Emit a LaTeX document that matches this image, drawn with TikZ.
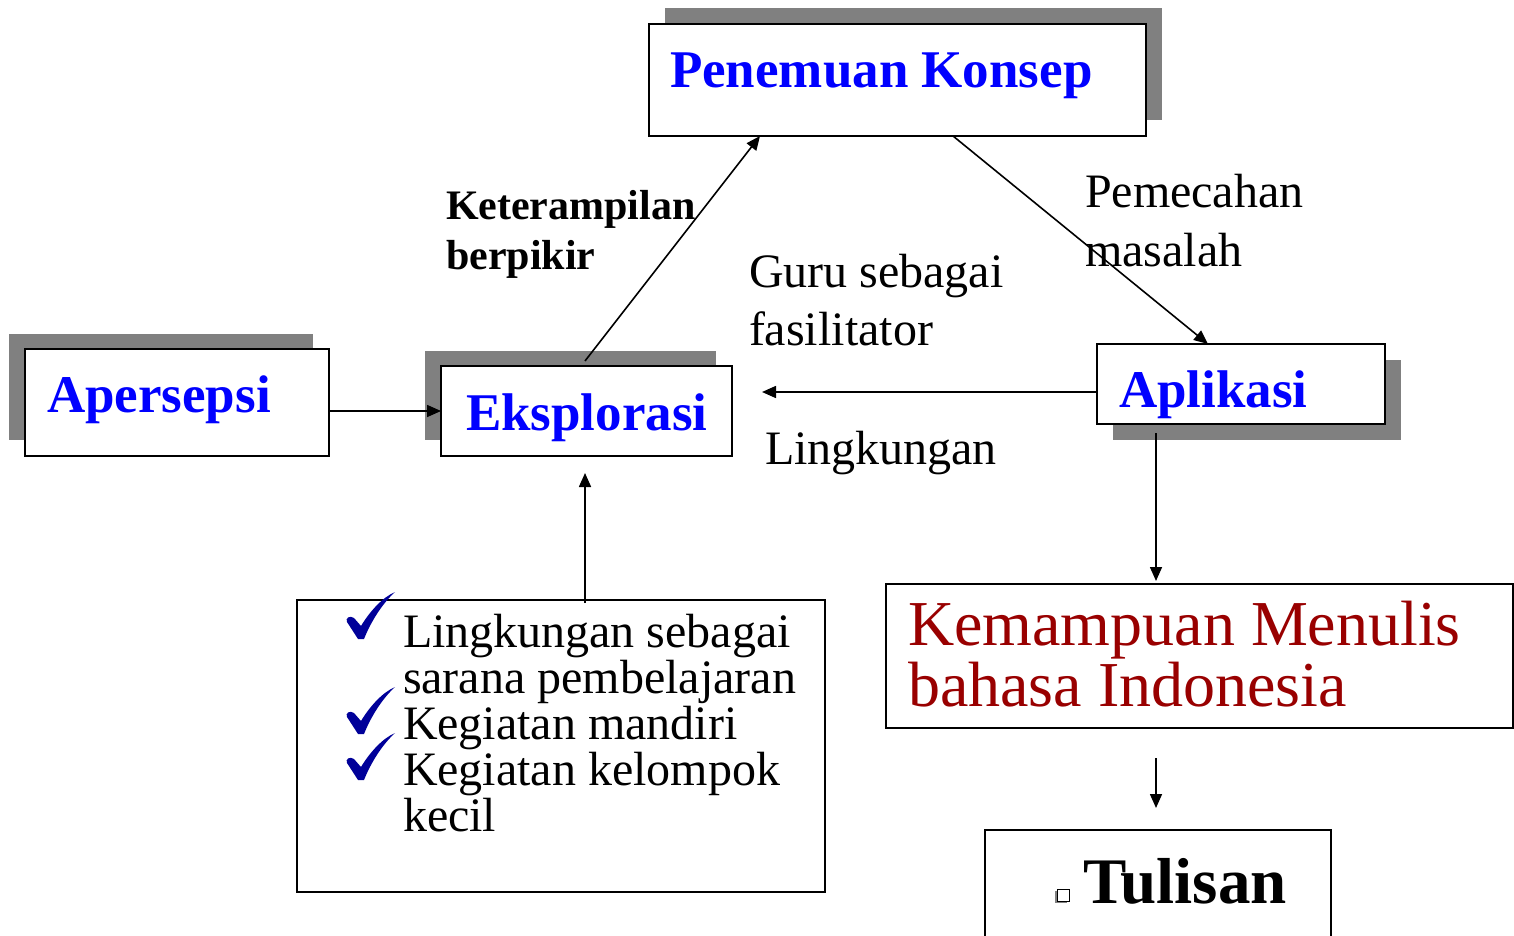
\documentclass[tikz,border=0pt]{standalone}
\usepackage{fontspec}
\setmainfont{Liberation Serif}
\usetikzlibrary{arrows.meta,calc}
\definecolor{shadowgray}{RGB}{128,128,128}
\definecolor{titleblue}{RGB}{0,0,255}
\definecolor{darkred}{RGB}{153,0,0}
\definecolor{checkblue}{RGB}{0,0,153}
\tikzset{
  box/.style={draw=black, line width=1pt, fill=white, rectangle, inner sep=0pt, outer sep=0pt, anchor=north west},
  shadowfill/.style={fill=shadowgray},
  arr/.style={line width=0.8pt, -{Triangle[length=7pt,width=6pt]}},
  txt/.style={anchor=base west, inner sep=0pt, outer sep=0pt, align=left},
  boldtitle/.style={txt, text=titleblue, font=\fontsize{26.5}{30}\selectfont\bfseries},
  normaltxt/.style={txt, font=\fontsize{24}{29}\selectfont},
  checkmark/.style={fill=checkblue},
}
\begin{document}
\begin{tikzpicture}[x=0.5pt,y=-0.5pt]
\useasboundingbox (0,0) rectangle (1514,936);
% shadows
\fill[shadowfill] (665,8) rectangle (1162,120);
\fill[shadowfill] (9,334) rectangle (313,440);
\fill[shadowfill] (425,351) rectangle (716,440);
\fill[shadowfill] (1113,360) rectangle (1401,440);
% boxes
\node[box, minimum width=248.5pt, minimum height=56pt] (pk) at (649,24) {};
\node[box, minimum width=152pt, minimum height=53.5pt] (ap) at (25,349) {};
\node[box, minimum width=145.5pt, minimum height=45pt] (ek) at (441,366) {};
\node[box, minimum width=144pt, minimum height=40pt] (al) at (1097,344) {};
\node[box, minimum width=313.5pt, minimum height=72pt] (km) at (886,584) {};
\node[box, minimum width=173pt, minimum height=60pt] (tl) at (985,830) {};
\node[box, minimum width=264pt, minimum height=146pt] (lb) at (297,600) {};
% titles
\node[boldtitle] (tpk) at (670,88) {Penemuan Konsep};
\node[boldtitle] (tap) at (47,412) {Apersepsi};
\node[boldtitle] (tek) at (466,430) {Eksplorasi};
\node[boldtitle] (tal) at (1119,407) {Aplikasi};
\node[txt, text=darkred, font=\fontsize{32}{30.5}\selectfont] (tkm) at (908,706) {Kemampuan Menulis\\bahasa Indonesia};
\node[txt, font=\fontsize{32.5}{36}\selectfont\bfseries] (ttl) at (1083,903) {Tulisan};
% small square bullet
\fill[shadowgray] (1055,891) rectangle (1067,903);
\filldraw[fill=white, draw=black, line width=0.5pt] (1057,889) rectangle (1069,901);
% labels
\node[txt, font=\fontsize{21}{25}\selectfont\bfseries] (lket) at (446,270) {Keterampilan\\berpikir};
\node[normaltxt] (lguru) at (749,345) {Guru sebagai\\fasilitator};
\node[normaltxt] (lpem) at (1085,266) {Pemecahan\\masalah};
\node[normaltxt] (lling) at (765,464) {Lingkungan};
\node[txt, font=\fontsize{24}{23}\selectfont] (llist) at (403,831) {Lingkungan sebagai\\sarana pembelajaran\\Kegiatan mandiri\\Kegiatan kelompok\\kecil};
% check marks
\foreach \bx/\by in {358/639, 358/734, 358/780} {
  \fill[checkmark] (\bx,\by) -- ++(-11,-17)
    .. controls ++(-2,-4) and ++(-4,-3) .. ++(7,-4)
    -- ++(7,8)
    .. controls ++(9,-15) and ++(-12,5) .. ++(34,-34)
    .. controls ++(-11,10) and ++(8,-20) .. (\bx+6,\by) -- cycle;
}
% connectors
\coordinate (lingend) at (762,392);
\coordinate (ekbelow) at (585,473);
\coordinate (downstart) at (1156,758);
\coordinate (downend) at (1156,808);
\draw[arr] (ap.east |- ek.west) -- (ek.west);
\draw[arr] ($(ek.north west)+(144,-5)$) -- ($(pk.south west)+(111,0)$);
\draw[arr] ($(pk.south west)+(304,0)$) -- ($(al.north west)+(111,0)$);
\draw[arr] ($(al.west)+(0,8)$) -- (lingend);
\draw[arr] ($(al.south west)+(59,9)$) -- ($(km.north west)+(270,-3)$);
\draw[arr] ($(lb.north west)+(288,3)$) -- (ekbelow);
\draw[arr] (downstart) -- (downend);
\end{tikzpicture}
\end{document}
